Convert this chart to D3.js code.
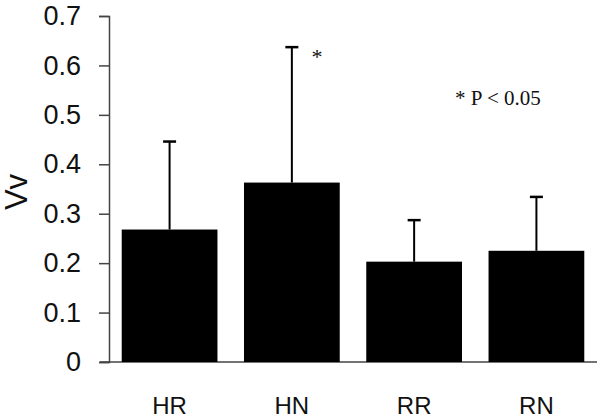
<!DOCTYPE html>
<html><head><meta charset="utf-8">
<script src="https://cdn.jsdelivr.net/npm/d3@7"></script>
<style>body{margin:0;background:#fff}svg{display:block}</style>
</head><body>
<script>
const categories = ["HR", "HN", "RR", "RN"];
const means = [0.268, 0.363, 0.203, 0.225];
const errTops = [0.446, 0.637, 0.287, 0.334];
const yTicks = [0, 0.1, 0.2, 0.3, 0.4, 0.5, 0.6, 0.7];

const W = 600, H = 419;
const svg = d3.select("body").append("svg").attr("width", W).attr("height", H);

const y = d3.scaleLinear().domain([0, 0.7]).range([362, 16]);
const x = d3.scaleBand().domain(categories).range([109, 597]).paddingInner(0.217).paddingOuter(0.104);

// y axis
const yAxis = d3.axisLeft(y).tickValues(yTicks).tickSize(10).tickPadding(18)
  .tickFormat(d => d === 0 ? "0" : d3.format(".1f")(d));
const ga = svg.append("g").attr("transform", "translate(109,0)").call(yAxis);
ga.select(".domain").attr("stroke", "#444").attr("stroke-width", 1.5);
ga.selectAll(".tick line").attr("stroke", "#444").attr("stroke-width", 1.5);
ga.selectAll(".tick text").attr("font-family", "Liberation Sans, Arial, sans-serif")
  .attr("font-size", 27).attr("fill", "#111");

// baseline
svg.append("line").attr("x1", 100).attr("x2", 597).attr("y1", y(0)).attr("y2", y(0))
  .attr("stroke", "#444").attr("stroke-width", 1.5);

// bars
svg.selectAll("rect.bar").data(categories).join("rect").attr("class", "bar")
  .attr("x", d => x(d)).attr("width", x.bandwidth())
  .attr("y", (d, i) => y(means[i])).attr("height", (d, i) => y(0) - y(means[i]))
  .attr("fill", "#000");

// error bars
const eb = svg.append("g");
categories.forEach((c, i) => {
  const cx = x(c) + x.bandwidth() / 2;
  eb.append("line").attr("x1", cx).attr("x2", cx).attr("y1", y(means[i])).attr("y2", y(errTops[i]))
    .attr("stroke", "#000").attr("stroke-width", 2);
  eb.append("line").attr("x1", cx - 6.5).attr("x2", cx + 6.5).attr("y1", y(errTops[i])).attr("y2", y(errTops[i]))
    .attr("stroke", "#000").attr("stroke-width", 2.5);
});

// x labels
svg.selectAll("text.xl").data(categories).join("text").attr("class", "xl")
  .attr("x", d => x(d) + x.bandwidth() / 2).attr("y", 414)
  .attr("text-anchor", "middle").attr("font-family", "Liberation Sans, Arial, sans-serif")
  .attr("font-size", 24).attr("fill", "#111").text(d => d);

// y title
svg.append("text").attr("transform", "translate(27,192) rotate(-90)")
  .attr("text-anchor", "middle").attr("font-family", "Liberation Sans, Arial, sans-serif")
  .attr("font-size", 31).attr("fill", "#111").text("Vv");

// significance
svg.append("text").attr("x", 317).attr("y", 64).attr("text-anchor", "middle")
  .attr("font-family", "Liberation Serif, Times New Roman, serif").attr("font-size", 22).attr("fill", "#111").text("*");
svg.append("text").attr("x", 455).attr("y", 105)
  .attr("font-family", "Liberation Serif, Times New Roman, serif").attr("font-size", 21).attr("fill", "#111").text("* P < 0.05");
</script>
</body></html>
